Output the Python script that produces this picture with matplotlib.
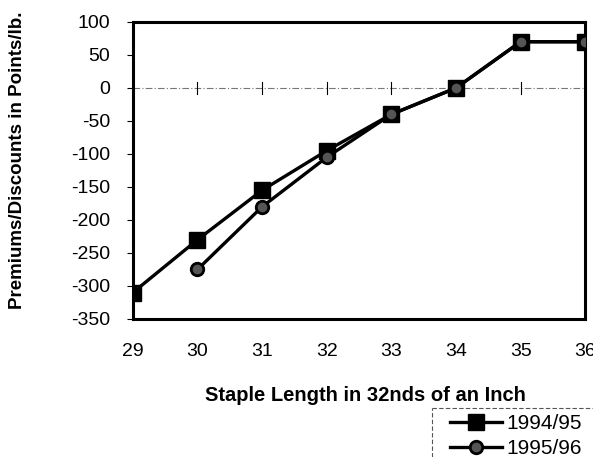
import matplotlib.pyplot as plt
from matplotlib.lines import Line2D

# staple length (32nds of an inch) and premiums/discounts, points/lb
staple = [29, 30, 31, 32, 33, 34, 35, 36]
prem_9495 = [-310, -230, -155, -95, -40, 0, 70, 70]
staple_96 = [30, 31, 32, 33, 34, 35, 36]
prem_9596 = [-275, -180, -105, -40, 0, 70, 70]
yticks = [100, 50, 0, -50, -100, -150, -200, -250, -300, -350]

plt.rcParams['font.family'] = ['Liberation Sans', 'DejaVu Sans']
plt.rcParams['axes.unicode_minus'] = False

W, H = 593, 457
fig = plt.figure(figsize=(W / 100, H / 100), dpi=100)
ax = fig.add_axes([0.224, 0.302, 0.763, 0.650])

ax.plot(staple, prem_9495, color='black', lw=2.4, marker='s', ms=11,
        mfc='black', mec='black', label='1994/95', zorder=3)
ax.plot(staple_96, prem_9596, color='black', lw=2.4, marker='o', ms=9,
        mfc='#555555', mec='black', mew=2, label='1995/96', zorder=4)

# x axis crossing at zero with small tick marks
ax.axhline(0, color='#777777', lw=0.8, ls=(0, (6, 2, 1, 2)), zorder=1)
for x in staple:
    ax.plot([x, x], [-9, 9], color='black', lw=0.8, zorder=1)

ax.set_xlim(29, 36)
ax.set_ylim(-350, 100)
ax.set_yticks(yticks)
ax.set_xticks(staple)
ax.tick_params(axis='x', length=0, pad=17, labelsize=14)
ax.tick_params(axis='y', length=4.5, width=0.8, direction='out', labelsize=14, pad=12)
for s in ax.spines.values():
    s.set_linewidth(2.2)

ax.set_ylabel('Premiums/Discounts in Points/lb.', fontsize=13.5, fontweight='bold', va='center')
ax.yaxis.set_label_coords(-0.254, 0.535)
ax.set_xlabel('Staple Length in 32nds of an Inch', fontsize=14.5, fontweight='bold', va='center')
ax.xaxis.set_label_coords(0.515, -0.256)

# legend, its box runs off the bottom/right edge like the scan
leg = fig.legend(loc='upper left', bbox_to_anchor=(450 / W, 1 - 414 / H), fontsize=15,
                 frameon=False, handlelength=2.5, borderpad=0,
                 labelspacing=0.3, handletextpad=0.2, borderaxespad=0)
fig.add_artist(Line2D([432 / W, 432 / W], [0, 1 - 408 / H], color='#555555', lw=0.8,
                      ls=(0, (4, 2)), transform=fig.transFigure))
fig.add_artist(Line2D([432 / W, 1], [1 - 408 / H, 1 - 408 / H], color='#555555', lw=0.8,
                      ls=(0, (4, 2)), transform=fig.transFigure))

fig.savefig('out.png', dpi=100)
